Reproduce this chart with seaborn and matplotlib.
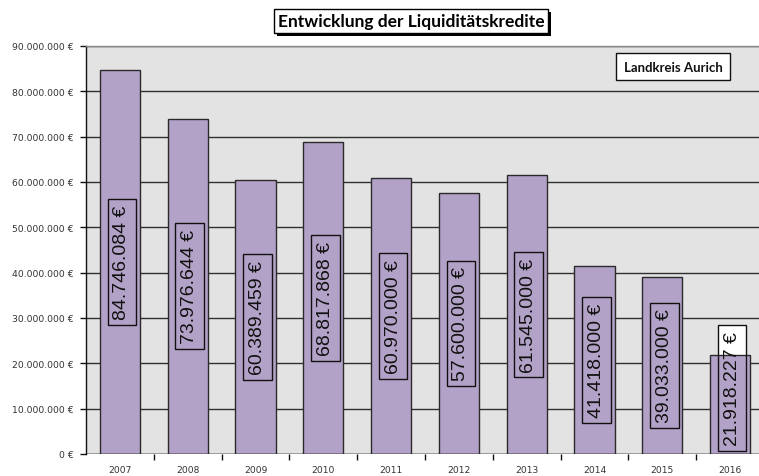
import matplotlib
matplotlib.use("Agg")
import matplotlib.pyplot as plt
import matplotlib.patheffects as pe
import matplotlib.transforms as mtransforms
from matplotlib.ticker import FuncFormatter, MultipleLocator, FixedLocator
import seaborn as sns
import pandas as pd

# ========= DATA =========
years = ["2007", "2008", "2009", "2010", "2011", "2012", "2013", "2014", "2015", "2016"]
kredite = [84746084, 73976644, 60389459, 68817868, 60970000,
           57600000, 61545000, 41418000, 39033000, 21918227]

df = pd.DataFrame({"Jahr": years, "Betrag": kredite})


def euro(v):
    return f"{int(round(v)):,}".replace(",", ".") + " €"


# ========= STYLE =========
sns.set_style("white")
plt.rcParams["font.family"] = ["DejaVu Sans"]

fig = plt.figure(figsize=(7.59, 4.77), dpi=100)
ax = fig.add_axes([86 / 759, 1 - 455 / 477, 678 / 759, 408 / 477])
ax.set_facecolor("#e3e3e3")

sns.barplot(data=df, x="Jahr", y="Betrag", color="#b3a2c7", saturation=1,
            edgecolor="#2a2a2a", linewidth=1.0, width=0.59, ax=ax, zorder=2)

ax.set_xlim(-0.5, len(years) - 0.5)
ax.set_ylim(0, 90_000_000)
ax.yaxis.set_major_locator(MultipleLocator(10_000_000))
ax.yaxis.set_major_formatter(FuncFormatter(lambda v, p: euro(v)))
ax.set_axisbelow(True)
ax.grid(axis="y", color="#2f2f2f", linewidth=1.0)
ax.set_xlabel("")
ax.set_ylabel("")

for s in ["right", "bottom"]:
    ax.spines[s].set_visible(False)
ax.spines["top"].set_color("#8a8a8a")
ax.spines["top"].set_linewidth(1.0)
ax.spines["left"].set_color("#111111")
ax.spines["left"].set_linewidth(1.0)
ax.axhline(0, color="#111111", linewidth=1.0, zorder=3)

ax.tick_params(axis="y", direction="out", length=4, width=1, color="#111111",
               labelsize=6.7, labelcolor="#333333", pad=5, left=True)
ax.tick_params(axis="x", which="major", length=0, labelsize=6.6,
               labelcolor="#333333", pad=8)
ax.xaxis.set_minor_locator(FixedLocator([i + 0.5 for i in range(len(years))]))
ax.tick_params(axis="x", which="minor", direction="out", length=4, width=1,
               color="#111111", bottom=True)

# ========= VALUE LABELS =========
lab_font = ["Liberation Sans", "DejaVu Sans"]
shifted = ax.transData + mtransforms.ScaledTranslation(2 / 100, 0, fig.dpi_scale_trans)
for i, v in enumerate(kredite):
    yc = max(v / 2, 14_500_000)
    # white background part (only visible where it sticks out of the bar)
    ax.text(i, yc, euro(v), rotation=90, ha="center", va="center", transform=shifted,
            fontsize=14, family=lab_font, color="white", zorder=1.5,
            bbox=dict(boxstyle="square,pad=0.3", facecolor="white",
                      edgecolor="none"))
    ax.text(i, yc, euro(v), rotation=90, ha="center", va="center", transform=shifted,
            fontsize=14, family=lab_font, color="#111111", zorder=4,
            bbox=dict(boxstyle="square,pad=0.3", facecolor="none",
                      edgecolor="#111111", linewidth=1.0))

# ========= TITLE + BOX =========
title_txt = fig.text(411 / 759, 1 - 22 / 477, "Entwicklung der Liquiditätskredite",
                     ha="center", va="center", fontsize=12.5, fontweight="bold",
                     family=["Lato", "DejaVu Sans"], color="black",
                     bbox=dict(boxstyle="square,pad=0.22", facecolor="white",
                               edgecolor="black", linewidth=1.0))
title_txt.get_bbox_patch().set_path_effects(
    [pe.SimplePatchShadow(offset=(2, -2), shadow_rgbFace="black", alpha=1.0), pe.Normal()])

fig.text(673 / 759, 1 - 67.5 / 477, "Landkreis Aurich", ha="center", va="center",
         fontsize=9.5, fontweight="bold", family=["Lato", "DejaVu Sans"], color="#111111",
         bbox=dict(boxstyle="square,pad=0.6", facecolor="white", edgecolor="#111111",
                   linewidth=1.0))

plt.savefig("out.png", dpi=100)
